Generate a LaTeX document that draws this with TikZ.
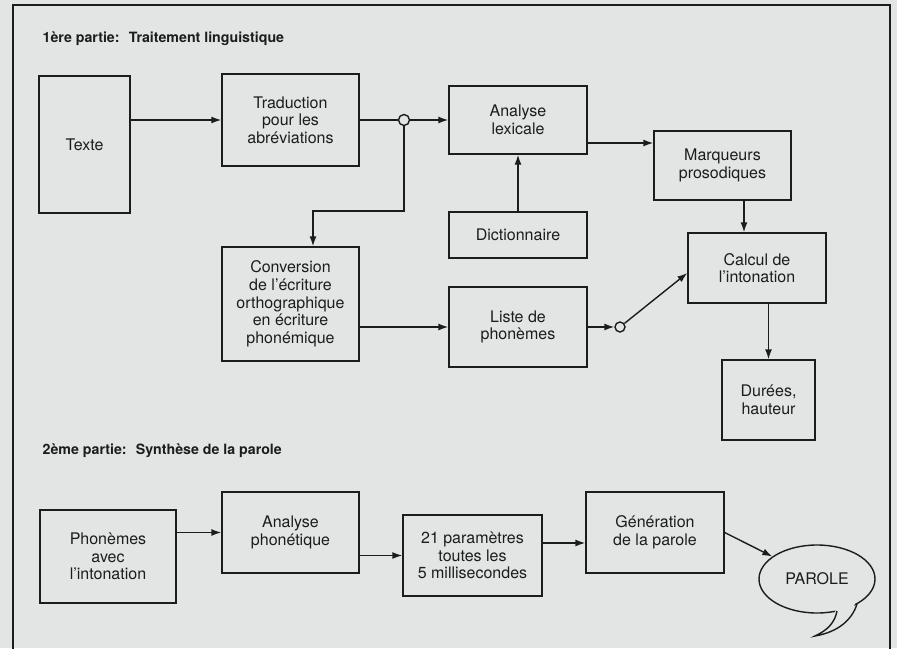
\documentclass[tikz,border=0pt]{standalone}
\usepackage{fontspec}
\setmainfont{TeX Gyre Heros}
\usetikzlibrary{arrows.meta,shapes.geometric}
\definecolor{papier}{RGB}{226,229,228}
\definecolor{encre}{RGB}{28,28,28}

\begin{document}
\begin{tikzpicture}
      [x=1pt, y=-1pt, color=encre, line width=1.4pt, >={Latex[length=10pt,width=7pt]},
       bloc/.style={draw, fill=papier, align=center, inner sep=2pt, font=\fontsize{16}{17.7}\selectfont},
       bulle/.style={draw, ellipse, fill=papier, inner sep=0pt, font=\fontsize{16}{17.7}\selectfont},
       rond/.style={draw, circle, fill=papier, minimum size=11pt, inner sep=0pt},
       titre/.style={anchor=west, inner sep=0pt, font=\fontsize{14.2}{16}\selectfont\bfseries}]
      \path[use as bounding box, fill=papier] (0,0) rectangle (897,648);
      \draw[line width=1.6pt] (13,660) -- (13,5) -- (890,5) -- (890,660);
      \node[titre](t1) at (42,39) {1ère partie:~ Traitement linguistique};
      \node[titre](t2) at (42,451) {2ème partie:~ Synthèse de la parole};
      % 1ere partie
      \node[bloc, minimum width=91pt, minimum height=137pt](1) at (84.5,144.5) {Texte};
      \node[bloc, minimum width=137pt, minimum height=92pt](2) at (290.5,120) {Traduction\\pour les\\abréviations};
      \node[bloc, minimum width=137pt, minimum height=114pt](3) at (290.5,304) {Conversion\\de l'écriture\\orthographique\\en écriture\\phonémique};
      \node[bloc, minimum width=138pt, minimum height=68pt](4) at (518,120) {Analyse\\lexicale};
      \node[bloc, minimum width=138pt, minimum height=46pt](5) at (518,235) {Dictionnaire};
      \node[bloc, minimum width=138pt, minimum height=80pt](6) at (518,327) {Liste de\\phonèmes};
      \node[bloc, minimum width=137pt, minimum height=69pt](7) at (722.5,165.5) {Marqueurs\\prosodiques};
      \node[bloc, minimum width=138pt, minimum height=70pt](8) at (757,268) {Calcul de\\l'intonation};
      \node[bloc, minimum width=93pt, minimum height=80pt](9) at (768.5,400) {Durées,\\hauteur};
      \node[rond](c1) at (404,120) {};
      \node[rond, minimum size=10pt](c2) at (620,327) {};
      \coordinate(k) at (313,211);
      \draw[->](1.east |- 2.west) -- (2.west);
      \draw(2.east) -- (c1);
      \draw[->](c1) -- (4.west);
      \draw[->](c1) |- (k) -- (k |- 3.north);
      \draw[->](3.east |- 6.west) -- (6.west);
      \draw[->](5) -- (4);
      \draw[->]([yshift=-23pt]4.east) -- ([yshift=-23pt]4.east -| 7.west);
      \draw[->]([xshift=21.5pt]7.south) -- ([xshift=21.5pt]7.south |- 8.north);
      \draw[->](6.east) -- (c2);
      \draw[->](c2) -- ([yshift=-5pt]8.west);
      \draw[->](9.north |- 8.south) -- (9.north);
      % 2eme partie
      \node[bloc, minimum width=136pt, minimum height=93pt](10) at (108,556.5) {Phonèmes\\avec\\l'intonation};
      \node[bloc, minimum width=137pt, minimum height=81pt](11) at (290.5,532.5) {Analyse\\phonétique};
      \node[bloc, minimum width=139pt, minimum height=81pt](12) at (472.5,555.5) {21 paramètres\\toutes les\\5 millisecondes};
      \node[bloc, minimum width=138pt, minimum height=81pt](13) at (655,532.5) {Génération\\de la parole};
      \node[bulle, minimum width=116pt, minimum height=68pt](14) at (817,579) {PAROLE};
      \path[fill=papier] (836,606) .. controls (835,620) and (828,630) .. (815,636)
            .. controls (838,632) and (852,620) .. (856,599) -- cycle;
      \draw (837,611) .. controls (835,622) and (828,630) .. (815,636)
            .. controls (838,632) and (852,620) .. (857,604);
      \draw[->](10.east |- 11.west) -- (11.west);
      \draw[->](11.east |- 12.west) -- (12.west);
      \draw[->]([yshift=12.5pt]12.east) -- ([yshift=12.5pt]12.east -| 13.west);
      \draw[->](13.east) -- (14);
  \end{tikzpicture}
\end{document}
